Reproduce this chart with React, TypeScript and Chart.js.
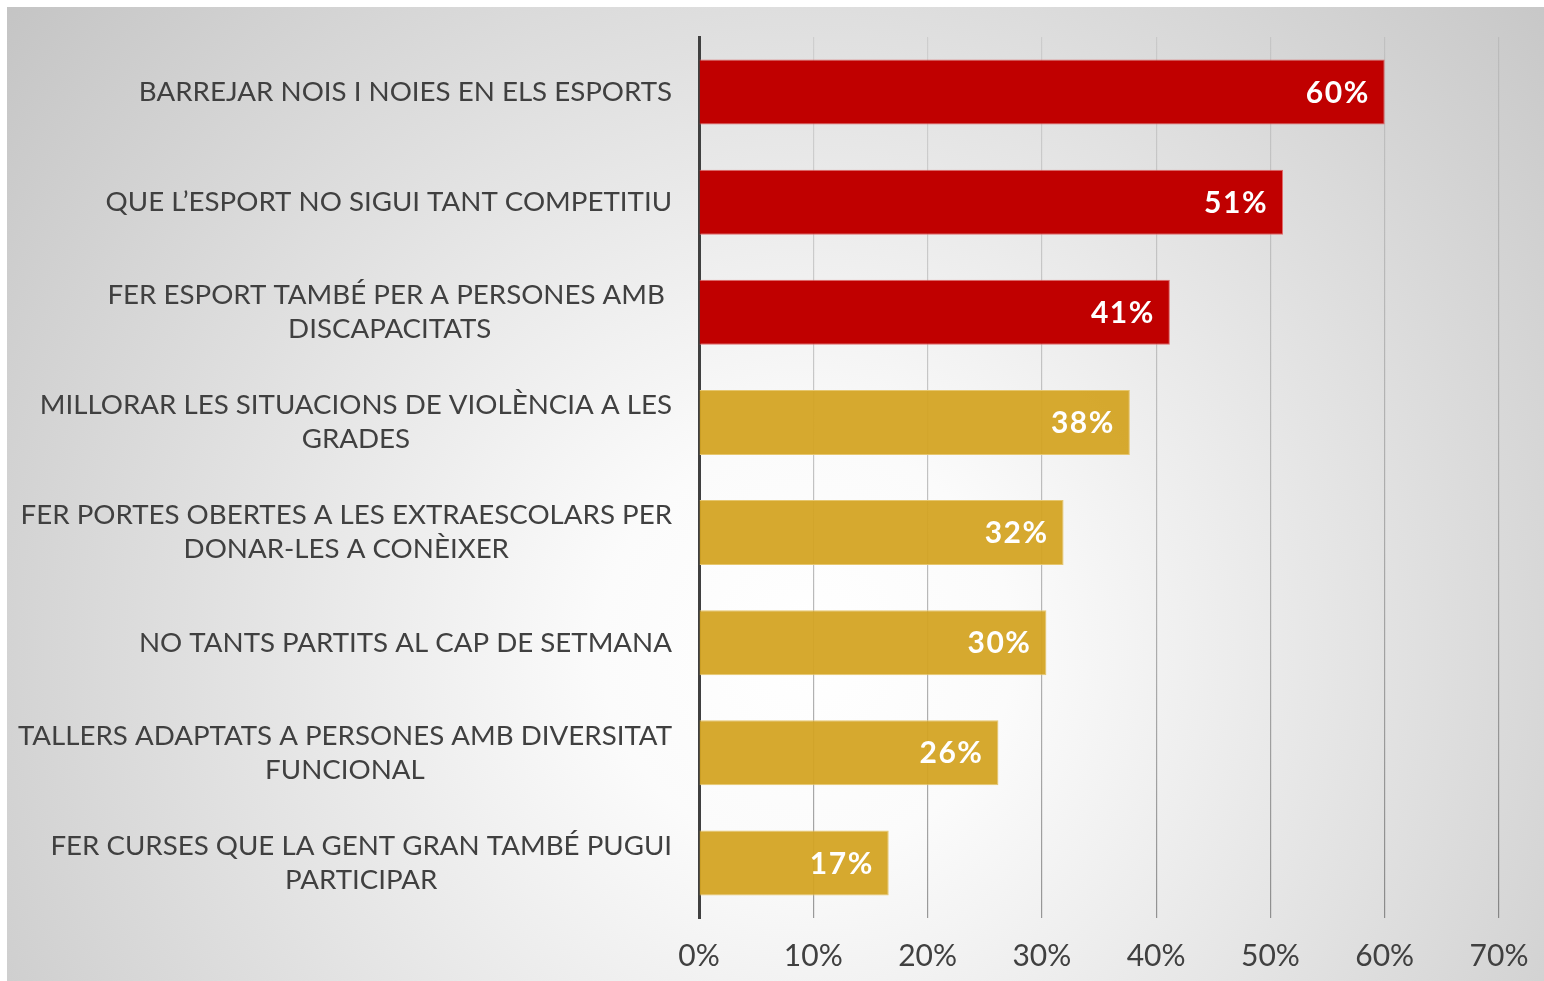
import React, { useEffect, useRef } from "react";
import { Chart, registerables } from "chart.js";

Chart.register(...registerables);

const categories: string[][] = [
  ["BARREJAR NOIS I NOIES EN ELS ESPORTS"],
  ["QUE L’ESPORT NO SIGUI TANT COMPETITIU"],
  ["FER ESPORT TAMBÉ PER A PERSONES AMB ", "DISCAPACITATS"],
  ["MILLORAR LES SITUACIONS DE VIOLÈNCIA A LES", "GRADES"],
  ["FER PORTES OBERTES A LES EXTRAESCOLARS PER", "DONAR-LES A CONÈIXER"],
  ["NO TANTS PARTITS AL CAP DE SETMANA"],
  ["TALLERS ADAPTATS A PERSONES AMB DIVERSITAT", "FUNCIONAL"],
  ["FER CURSES QUE LA GENT GRAN TAMBÉ PUGUI", "PARTICIPAR"],
];

const values: number[] = [60, 51.1, 41.2, 37.7, 31.9, 30.4, 26.2, 16.6];
const highlighted: boolean[] = [true, true, true, false, false, false, false, false];
const xTicks: number[] = [0, 10, 20, 30, 40, 50, 60, 70];

const RED = "#C00000";
const RED_EDGE = "#E06A6A";
const GOLD = "rgba(211,164,34,0.94)";
const GOLD_EDGE = "#E6C66E";
const TEXT = "#404040";
const FONT = "Lato, 'Open Sans', sans-serif";

export default function App() {
  const ref = useRef<HTMLCanvasElement | null>(null);

  useEffect(() => {
    if (!ref.current) return;

    const bgPlugin = {
      id: "bg",
      beforeDraw(chart: any) {
        const { ctx, width, height } = chart;
        ctx.save();
        const g = ctx.createRadialGradient(800, 640, 0, 800, 640, 1030);
        g.addColorStop(0, "#ffffff");
        g.addColorStop(0.2, "#fbfbfb");
        g.addColorStop(1, "#c4c4c4");
        ctx.fillStyle = g;
        ctx.fillRect(0, 0, width, height);
        ctx.restore();
      },
    };

    const labelsPlugin = {
      id: "catLabels",
      afterDraw(chart: any) {
        const { ctx } = chart;
        const yScale = chart.scales.y;
        const right = chart.chartArea.left - 27;
        ctx.save();
        ctx.font = `27.7px ${FONT}`;
        ctx.fillStyle = TEXT;
        ctx.textAlign = "center";
        ctx.textBaseline = "middle";
        const lh = 34;
        categories.forEach((lines, i) => {
          const yc = yScale.getPixelForValue(i);
          let widest = 0;
          lines.forEach((l) => {
            widest = Math.max(widest, ctx.measureText(l).width);
          });
          const cx = right - widest / 2;
          const y0 = yc - ((lines.length - 1) * lh) / 2;
          lines.forEach((l, k) => ctx.fillText(l, cx, y0 + k * lh));
        });
        ctx.restore();
      },
    };

    const valuePlugin = {
      id: "valueLabels",
      afterDatasetsDraw(chart: any) {
        const { ctx } = chart;
        const meta = chart.getDatasetMeta(0);
        ctx.save();
        ctx.font = `bold 30px ${FONT}`;
        ctx.fillStyle = "#ffffff";
        ctx.textAlign = "right";
        ctx.textBaseline = "middle";
        if ("letterSpacing" in ctx) (ctx as any).letterSpacing = "1.5px";
        meta.data.forEach((bar: any, i: number) => {
          ctx.fillText(`${Math.round(values[i])}%`, bar.x - 15, bar.y + 1);
        });
        ctx.restore();
      },
    };

    const chart = new Chart(ref.current, {
      type: "bar",
      data: {
        labels: categories.map((c) => c.join(" ")),
        datasets: [
          {
            data: values,
            backgroundColor: highlighted.map((h) => (h ? RED : GOLD)),
            borderColor: highlighted.map((h) => (h ? RED_EDGE : GOLD_EDGE)),
            borderWidth: 1,
            borderSkipped: "start",
            barPercentage: 0.59,
            categoryPercentage: 1,
          },
        ],
      },
      options: {
        indexAxis: "y",
        animation: false,
        responsive: true,
        maintainAspectRatio: false,
        layout: { padding: { top: 30, right: 45, left: 0, bottom: 0 } },
        plugins: {
          legend: { display: false },
          tooltip: { enabled: false },
          title: { display: false },
        },
        scales: {
          x: {
            min: 0,
            max: 70,
            afterFit: (s: any) => {
              s.height = 63;
              s.paddingLeft = 0;
              s.paddingRight = 0;
            },
            afterBuildTicks: (s: any) => {
              s.ticks = xTicks.map((v) => ({ value: v }));
            },
            ticks: {
              padding: 20,
              color: TEXT,
              font: { size: 30, family: FONT },
              callback: (v: any) => `${v}%`,
            },
            grid: {
              drawTicks: false,
              lineWidth: 1.2,
              color: (c: any) => {
                const area = c.chart.chartArea;
                if (!area) return "rgba(0,0,0,0.3)";
                const g = c.chart.ctx.createLinearGradient(0, area.top, 0, area.bottom);
                g.addColorStop(0, "rgba(0,0,0,0.08)");
                g.addColorStop(1, "rgba(0,0,0,0.38)");
                return g;
              },
            },
            border: { display: false },
          },
          y: {
            afterFit: (s: any) => {
              s.width = 692;
            },
            ticks: { display: false },
            grid: { display: false, drawTicks: false },
            border: { display: true, color: "#404040", width: 3 },
          },
        },
      },
      plugins: [bgPlugin, labelsPlugin, valuePlugin],
    });

    return () => chart.destroy();
  }, []);

  return (
    <div style={{ position: "absolute", left: 7, top: 7, width: 1537, height: 974 }}>
      <canvas ref={ref} />
    </div>
  );
}
